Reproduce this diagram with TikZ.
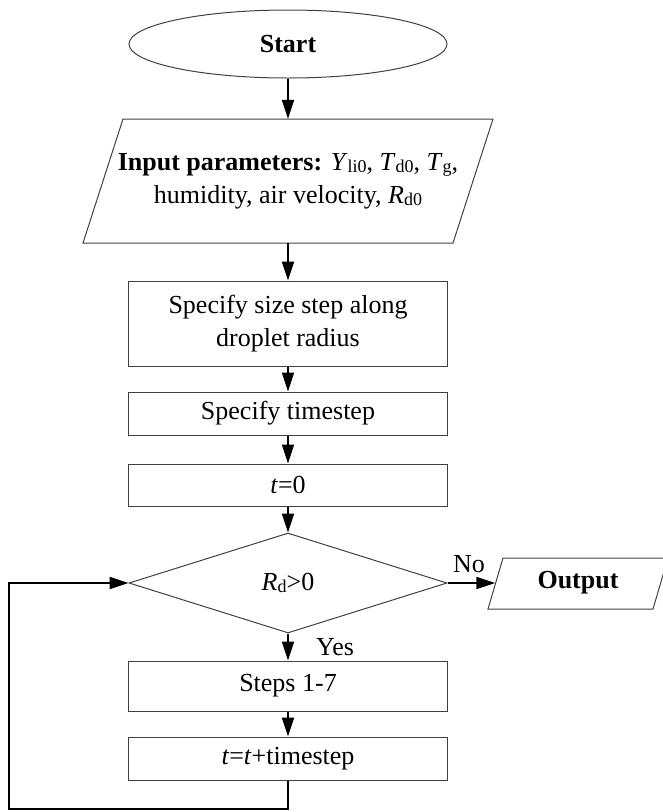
\documentclass[tikz,border=0pt]{standalone}
\usepackage{fontspec}
\setmainfont{Liberation Serif}
\usetikzlibrary{arrows.meta,shapes.geometric}

% small lowered index written after a symbol, e.g. T with d0
\newcommand\lowsub[1]{\raisebox{-2.5pt}{\fontsize{18}{18}\selectfont #1}}

\begin{document}
\begin{tikzpicture}[x=1pt,y=-1pt,
  font=\fontsize{26}{33}\selectfont,
  shape line/.style={draw=black!75, line width=1pt},
  procbox/.style={shape line, rectangle, minimum width=319pt, inner sep=0pt, align=center},
  textonly/.style={rectangle, inner sep=0pt, align=center},
  flow/.style={line width=2pt, -{Triangle[length=19pt,width=12pt]}}]

\clip (0,0) rectangle (663,812);

% terminal
\node[shape line, ellipse, minimum width=318pt, minimum height=68pt, inner sep=0pt,
      font=\fontsize{26}{33}\selectfont\bfseries] (start) at (288,44) {Start};

% input parallelogram
\node[textonly, minimum width=330pt, minimum height=124pt] (input) at (288,181)
  {\textbf{Input parameters:} \textit{Y}\lowsub{li0}, \textit{T}\lowsub{d0}, \textit{T}\lowsub{g},\\
   humidity, air velocity, \textit{R}\lowsub{d0}};
\draw[shape line] (83,243) -- (123,119) -- (493,119) -- (453,243) -- cycle;

% process boxes
\node[procbox, minimum height=85pt] (size) at (288,323.5) {Specify size step along\\droplet radius};
\node[procbox, minimum height=43pt] (tstep) at (288,413.5) {Specify timestep};
\node[procbox, minimum height=42pt] (tzero) at (288,485) {\textit{t}=0};

% decision
\node[shape line, diamond, minimum width=318pt, minimum height=100pt, inner sep=0pt] (dec) at (288,583)
  {\textit{R}\lowsub{d}>0};

\node[procbox, minimum height=50pt] (steps) at (288,686) {Steps 1-7};
\node[procbox, minimum height=43pt] (tinc) at (288,758.5) {\textit{t}=\textit{t}+timestep};

% output parallelogram
\node[textonly, minimum width=165pt, minimum height=51pt,
      font=\fontsize{26}{33}\selectfont\bfseries] (output) at (578,583) {Output};
\draw[shape line] (488,609) -- (503,558) -- (668,558) -- (653,609) -- cycle;

% branch labels
\node[textonly] (no) at (469,564) {No};
\node[textonly] (yes) at (335,647) {Yes};

% connectors
\draw[flow] (start) -- (input);
\draw[flow] (input) -- (size);
\draw[flow] (size) -- (tstep);
\draw[flow] (tstep) -- (tzero);
\draw[flow] (tzero) -- (dec);
\draw[flow] (dec) -- (output);
\draw[flow] (dec) -- (steps);
\draw[flow] (steps) -- (tinc);

% loop back to the decision
\coordinate (loopcorner) at (9,809);
\draw[flow] (tinc.south) |- (loopcorner) |- (dec.west);
\end{tikzpicture}
\end{document}
